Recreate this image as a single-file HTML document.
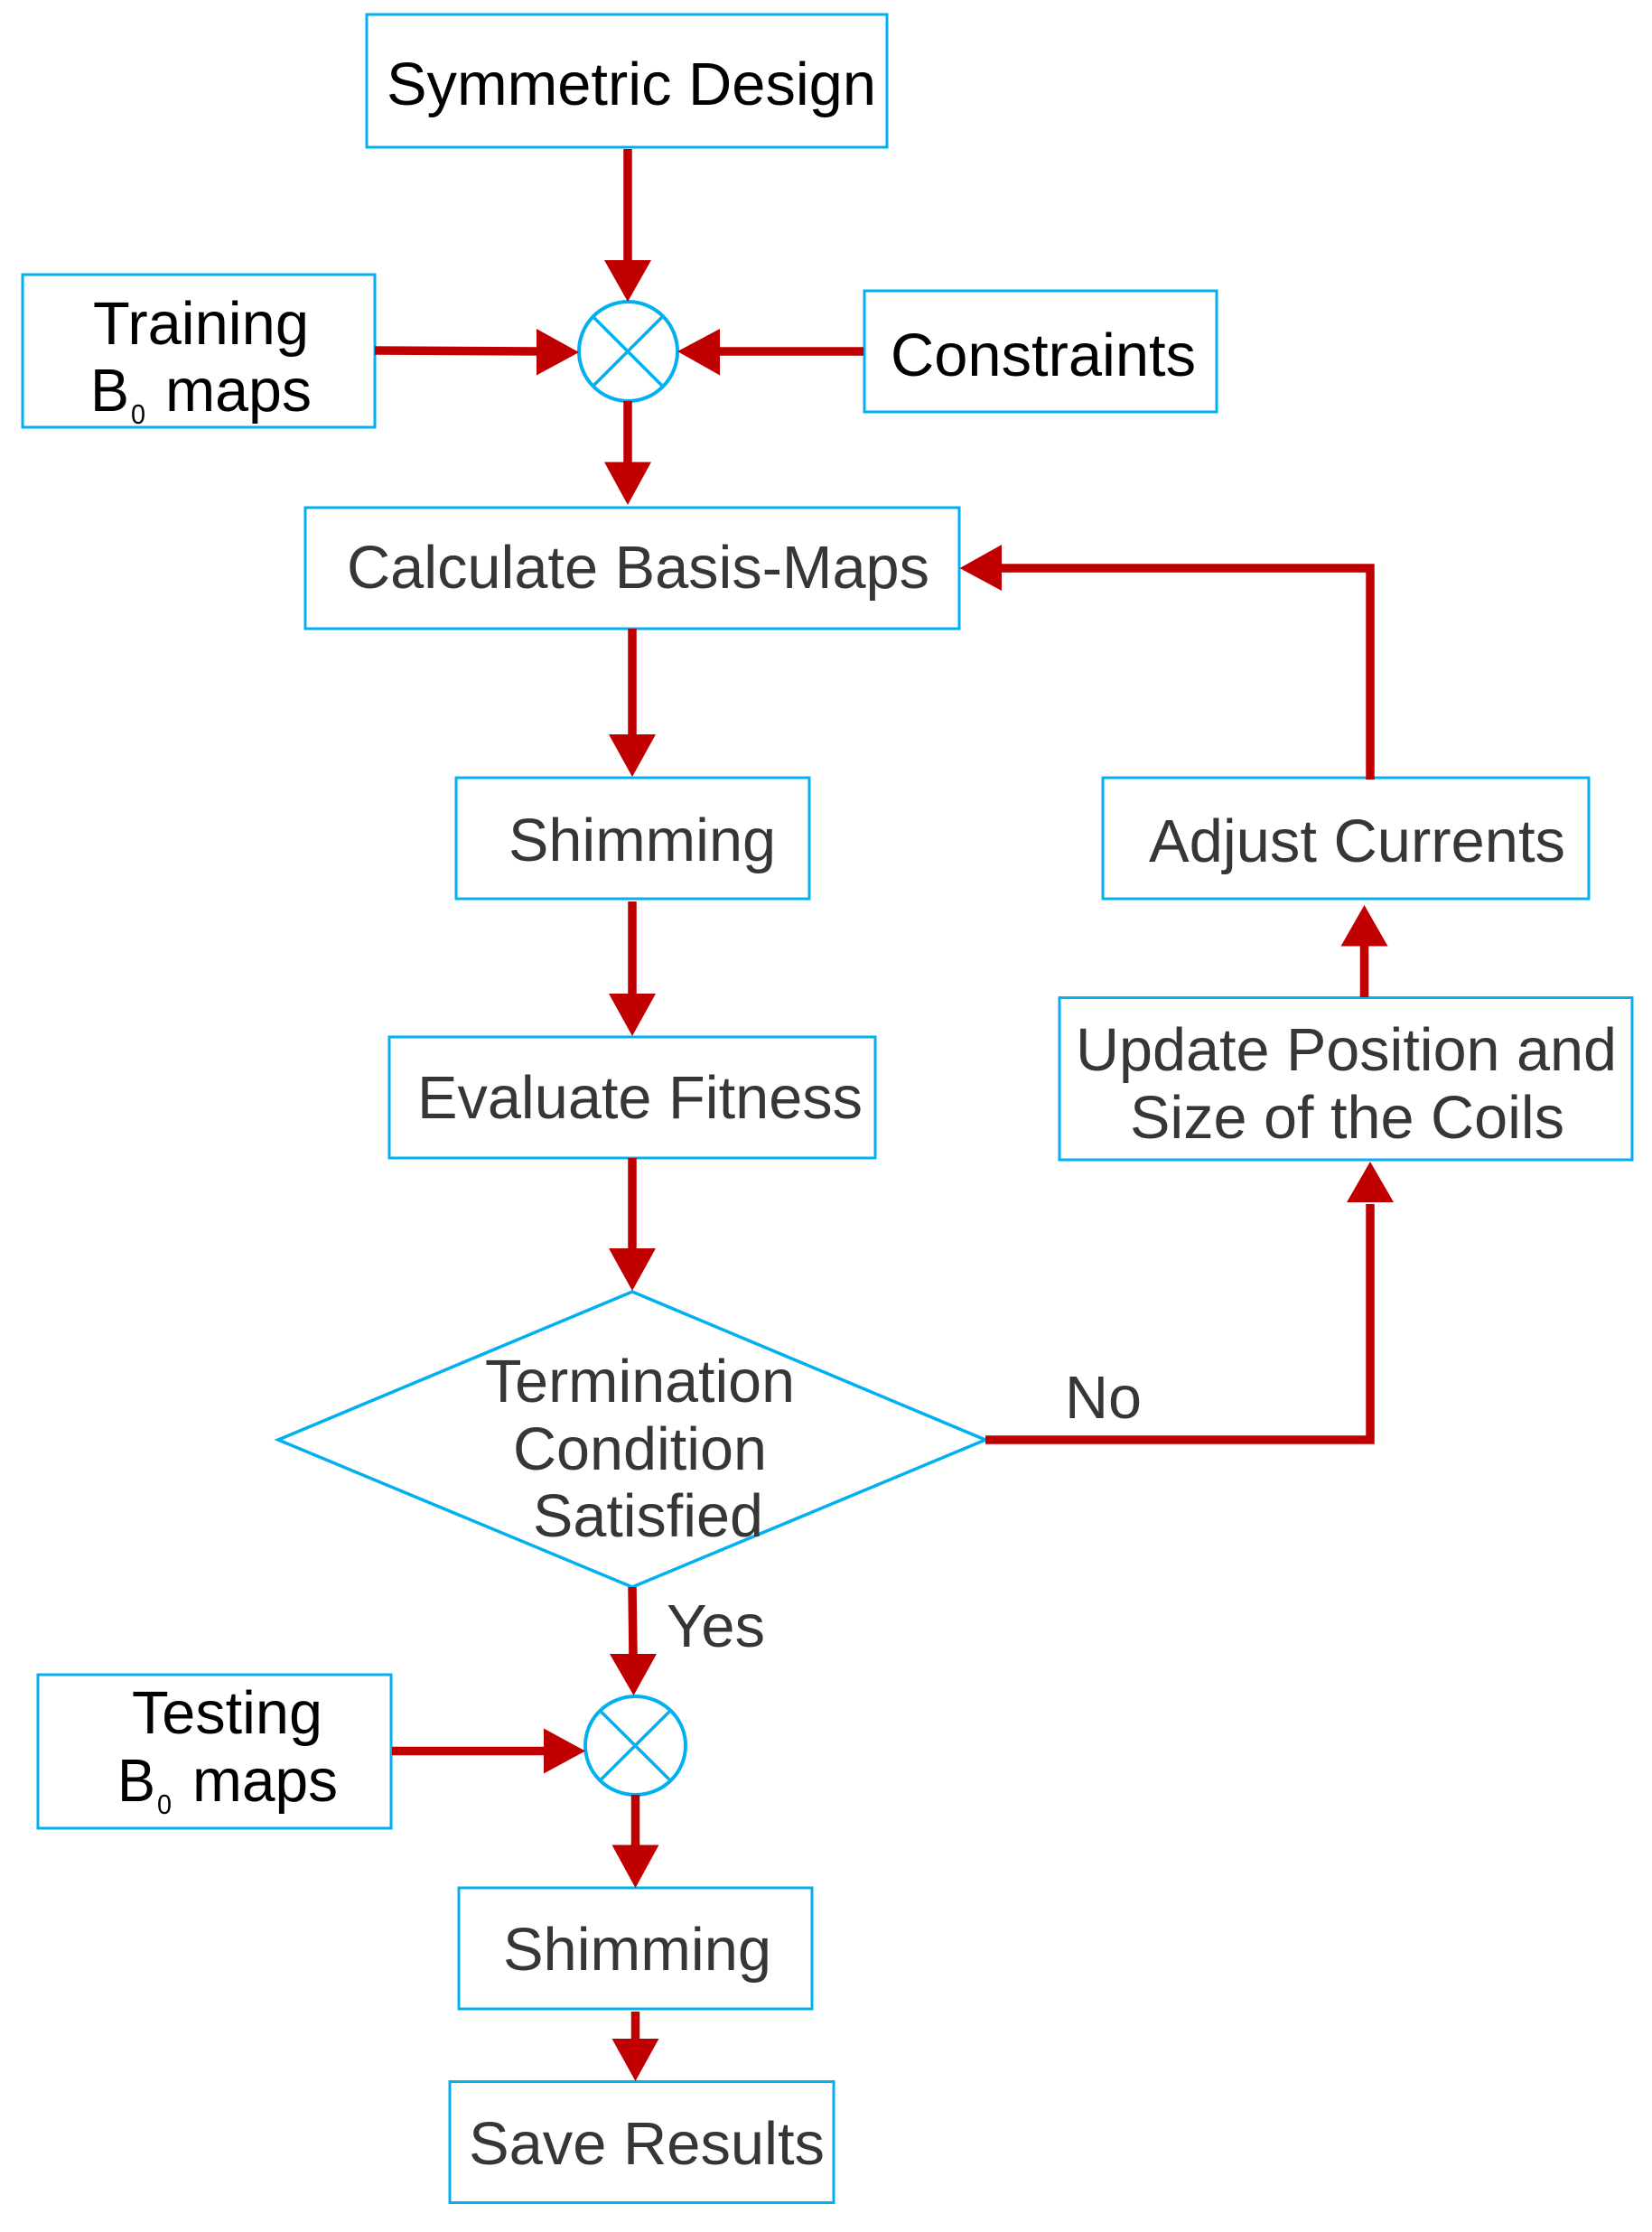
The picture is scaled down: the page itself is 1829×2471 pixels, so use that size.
<!DOCTYPE html>
<html><head><meta charset="utf-8"><title>Flowchart</title>
<style>
html,body{margin:0;padding:0;background:#fff}
svg{display:block}
text{font-family:"Liberation Sans",Arial,sans-serif;font-size:67px;fill:#363636}
.k{fill:#000}
.b{fill:none;stroke:#00b0f0;stroke-width:3}
.d{fill:none;stroke:#00b0f0;stroke-width:3.5}
.c{fill:none;stroke:#00b0f0;stroke-width:4}
.r{fill:none;stroke:#c00000;stroke-width:9.5}
.h{fill:#c00000}
</style></head><body>
<svg width="1829" height="2471" viewBox="0 0 1829 2471" xmlns="http://www.w3.org/2000/svg">
<rect width="1829" height="2471" fill="#fff"/>
<!-- boxes -->
<rect class="b" x="406" y="16" width="576" height="147"/>
<rect class="b" x="25" y="304" width="390" height="169"/>
<rect class="b" x="957" y="322" width="390" height="134"/>
<rect class="b" x="338" y="562" width="724" height="134"/>
<rect class="b" x="505" y="861" width="391" height="134"/>
<rect class="b" x="1221" y="861" width="538" height="134"/>
<rect class="b" x="1173" y="1104.5" width="634" height="179.5"/>
<rect class="b" x="431" y="1148" width="538" height="134"/>
<polygon class="d" points="700,1430 1091,1594 700,1757 308,1594"/>
<rect class="b" x="42" y="1854" width="391" height="170"/>
<rect class="b" x="508" y="2090" width="391" height="134"/>
<rect class="b" x="498" y="2304.5" width="425" height="134"/>
<!-- circles -->
<ellipse class="c" cx="695.5" cy="389" rx="54.5" ry="55"/>
<path class="d" d="M657,351L733,427M733,351L657,427"/>
<ellipse class="c" cx="703.5" cy="1932.5" rx="55.5" ry="54.5"/>
<path class="d" d="M665.5,1895L741,1970M741,1895L665.5,1970"/>
<!-- connectors -->
<path class="r" d="M695,165V290"/><polygon class="h" points="669,288 721,288 695,334"/>
<path class="r" d="M415,388L596,389"/><polygon class="h" points="594,364 594,415.5 641,390"/>
<path class="r" d="M956,389H795"/><polygon class="h" points="797,364 797,415.5 750,389"/>
<path class="r" d="M695,444V514"/><polygon class="h" points="669,511.5 721,511.5 695,559"/>
<path class="r" d="M700,696V815"/><polygon class="h" points="674,813 726,813 700,860"/>
<path class="r" d="M700,998V1102"/><polygon class="h" points="674,1100 726,1100 700,1147"/>
<path class="r" d="M700,1282V1384"/><polygon class="h" points="674,1382 726,1382 700,1429"/>
<path class="r" d="M1091,1594H1517V1333"/><polygon class="h" points="1491,1331 1543,1331 1517,1286"/>
<path class="r" d="M1510.5,1104V1045"/><polygon class="h" points="1484.5,1047.5 1536.5,1047.5 1510.5,1002"/>
<path class="r" d="M1517,863V629H1107"/><polygon class="h" points="1109,603 1109,654 1062.5,629"/>
<path class="r" d="M700,1757L701,1833"/><polygon class="h" points="675,1831 727,1831 701.5,1877"/>
<path class="r" d="M434,1938.5H603"/><polygon class="h" points="602,1913.5 602,1963.5 648,1938.5"/>
<path class="r" d="M703.5,1987V2045"/><polygon class="h" points="677.5,2042.5 729.5,2042.5 703.5,2090"/>
<path class="r" d="M703.5,2227V2259"/><polygon class="h" points="677.5,2257 729.5,2257 703.5,2304"/>
<!-- labels -->
<text class="k" x="428" y="116" textLength="542" lengthAdjust="spacingAndGlyphs">Symmetric Design</text>
<text class="k" x="103" y="381" textLength="239" lengthAdjust="spacingAndGlyphs">Training</text>
<text class="k" x="100" y="455" textLength="43" lengthAdjust="spacingAndGlyphs">B</text>
<text class="k" style="font-size:31px" x="145" y="469" textLength="16" lengthAdjust="spacingAndGlyphs">0</text>
<text class="k" x="183" y="455" textLength="162" lengthAdjust="spacingAndGlyphs">maps</text>
<text class="k" x="986" y="416" textLength="338" lengthAdjust="spacingAndGlyphs">Constraints</text>
<text x="384" y="651" textLength="645" lengthAdjust="spacingAndGlyphs">Calculate Basis-Maps</text>
<text x="563" y="953" textLength="296" lengthAdjust="spacingAndGlyphs">Shimming</text>
<text x="1272" y="954" textLength="461" lengthAdjust="spacingAndGlyphs">Adjust Currents</text>
<text x="1191" y="1185" textLength="599" lengthAdjust="spacingAndGlyphs">Update Position and</text>
<text x="1251" y="1260" textLength="481" lengthAdjust="spacingAndGlyphs">Size of the Coils</text>
<text x="462" y="1238" textLength="493" lengthAdjust="spacingAndGlyphs">Evaluate Fitness</text>
<text x="537" y="1552" textLength="343" lengthAdjust="spacingAndGlyphs">Termination</text>
<text x="568" y="1627" textLength="281" lengthAdjust="spacingAndGlyphs">Condition</text>
<text x="590" y="1701" textLength="255" lengthAdjust="spacingAndGlyphs">Satisfied</text>
<text x="1179" y="1570" textLength="85" lengthAdjust="spacingAndGlyphs">No</text>
<text x="738" y="1823" textLength="109" lengthAdjust="spacingAndGlyphs">Yes</text>
<text class="k" x="146" y="1919" textLength="211" lengthAdjust="spacingAndGlyphs">Testing</text>
<text class="k" x="130" y="1994" textLength="42" lengthAdjust="spacingAndGlyphs">B</text>
<text class="k" style="font-size:31px" x="174" y="2008" textLength="16" lengthAdjust="spacingAndGlyphs">0</text>
<text class="k" x="213" y="1994" textLength="161" lengthAdjust="spacingAndGlyphs">maps</text>
<text x="557" y="2181" textLength="297" lengthAdjust="spacingAndGlyphs">Shimming</text>
<text x="519" y="2396" textLength="394" lengthAdjust="spacingAndGlyphs">Save Results</text>
</svg>
</body></html>
